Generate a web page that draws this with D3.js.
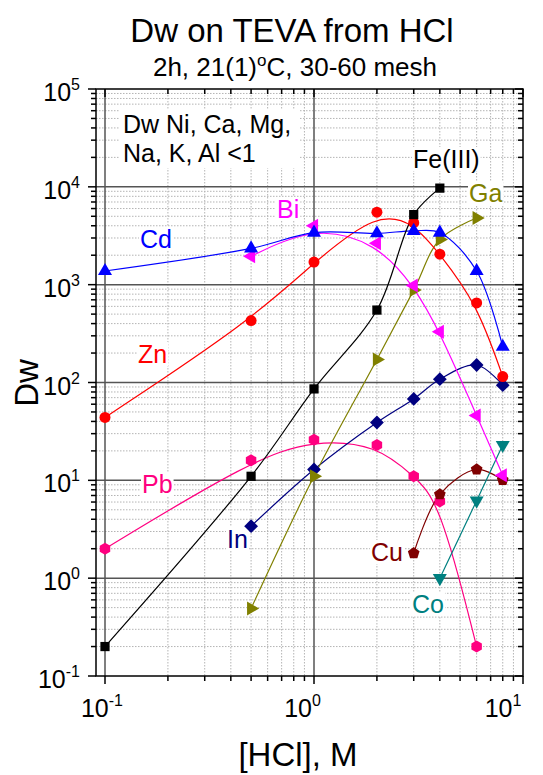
<!DOCTYPE html>
<html>
<head>
<meta charset="utf-8">
<script src="https://cdn.jsdelivr.net/npm/d3@7"></script>
<style>
  body { margin: 0; background: #fff; }
  svg text { font-family: "Liberation Sans", Arial, sans-serif; }
</style>
</head>
<body>
<div id="chart"></div>
<script>
// Dw on TEVA resin vs HCl concentration (log-log)
const width = 543;
const height = 775;

// series: HCl molarity and measured Dw
const feX = [0.1, 0.5, 1, 2, 3, 4];
const feDw = [0.2, 11, 86, 550, 5200, 9700];
const znX = [0.1, 0.5, 1, 2, 3, 4, 6, 8];
const znDw = [44, 430, 1700, 5500, 4300, 2050, 650, 115];
const cdX = [0.1, 0.5, 1, 2, 3, 4, 6, 8];
const cdDw = [1380, 2350, 3400, 3350, 3550, 3400, 1380, 232];
const biX = [0.5, 1, 2, 3, 4, 6, 8];
const biDw = [1950, 4000, 2650, 980, 330, 46, 11.3];
const gaX = [0.5, 1, 2, 3, 4, 6];
const gaDw = [0.49, 11, 172, 880, 2900, 4800];
const inX = [0.5, 1, 2, 3, 4, 6, 8];
const inDw = [3.4, 12.9, 39, 68, 108, 151, 94];
const pbX = [0.1, 0.5, 1, 2, 3, 4, 6];
const pbDw = [2.0, 16, 26, 23, 11, 6.1, 0.2];
const cuX = [3, 4, 6, 8];
const cuDw = [1.8, 7.2, 12.9, 10.1];
const coX = [4, 6, 8];
const coDw = [1.0, 6.2, 23];

const xDecades = [0.1, 1, 10];
const yDecades = [0.1, 1, 10, 100, 1000, 10000, 100000];

// custom polygon symbols (Origin style)
function polygon(n, rot) {
    return {
        draw(ctx, size) {
            const r = Math.sqrt(size / (n * 0.5 * Math.sin(2 * Math.PI / n)));
            for (let i = 0; i < n; i++) {
                const a = rot + i * 2 * Math.PI / n;
                const px = r * Math.cos(a), py = r * Math.sin(a);
                i === 0 ? ctx.moveTo(px, py) : ctx.lineTo(px, py);
            }
            ctx.closePath();
        }
    };
}
const tri = rot => polygon(3, rot);
const sym = {
    square: d3.symbolSquare,
    circle: d3.symbolCircle,
    up: tri(-Math.PI / 2),
    down: tri(Math.PI / 2),
    left: tri(Math.PI),
    right: tri(0),
    diamond: polygon(4, -Math.PI / 2),
    hexagon: polygon(6, -Math.PI / 2),
    pentagon: polygon(5, -Math.PI / 2)
};

const series = [
    { name: 'Pb', xs: pbX, ys: pbDw, color: '#FF0080', shape: 'hexagon', size: 95, fit: true },
    { name: 'Cu', xs: cuX, ys: cuDw, color: '#800000', shape: 'pentagon', size: 90 },
    { name: 'Co', xs: coX, ys: coDw, color: '#008080', shape: 'down', size: 85 },
    { name: 'In', xs: inX, ys: inDw, color: '#000080', shape: 'diamond', size: 95 },
    { name: 'Ga', xs: gaX, ys: gaDw, color: '#808000', shape: 'right', size: 85 },
    { name: 'Bi', xs: biX, ys: biDw, color: '#FF00FF', shape: 'left', size: 85, fit: true },
    { name: 'Zn', xs: znX, ys: znDw, color: '#FF0000', shape: 'circle', size: 95, fit: true },
    { name: 'Cd', xs: cdX, ys: cdDw, color: '#0000FF', shape: 'up', size: 85 },
    { name: 'Fe(III)', xs: feX, ys: feDw, color: '#000000', shape: 'square', size: 85 }
];

const labels = [
    { text: 'Cd', x: 140, y: 248, color: '#0000FF' },
    { text: 'Bi', x: 277, y: 218, color: '#FF00FF' },
    { text: 'Zn', x: 138, y: 363, color: '#FF0000' },
    { text: 'Pb', x: 142, y: 493, color: '#FF0080' },
    { text: 'In', x: 227, y: 548, color: '#000080' },
    { text: 'Fe(III)', x: 413, y: 168, color: '#000000' },
    { text: 'Ga', x: 469, y: 202, color: '#808000' },
    { text: 'Cu', x: 371, y: 561, color: '#800000' },
    { text: 'Co', x: 412, y: 613, color: '#008080' }
];

const frame = { left: 96, right: 523, top: 89, bottom: 676 };
const x = d3.scaleLog().domain([0.1, 10]).range([105, 523]);
const y = d3.scaleLog().domain([0.1, 100000]).range([frame.bottom, frame.top]);

const svg = d3.select('#chart').append('svg')
    .attr('width', width)
    .attr('height', height);

// minor positions (2..9 per decade)
const minorX = [];
xDecades.slice(0, -1).forEach(d => { for (let k = 2; k < 10; k++) minorX.push(d * k); });
const minorY = [];
yDecades.slice(0, -1).forEach(d => { for (let k = 2; k < 10; k++) minorY.push(d * k); });

// grid
const grid = svg.append('g');
grid.selectAll('.gx').data(minorX).enter().append('line')
    .attr('x1', d => x(d)).attr('x2', d => x(d))
    .attr('y1', frame.top).attr('y2', frame.bottom)
    .attr('stroke', '#b4b4b4').attr('stroke-width', 1).attr('stroke-dasharray', '1.5,1.5');
grid.selectAll('.gy').data(minorY).enter().append('line')
    .attr('y1', d => y(d)).attr('y2', d => y(d))
    .attr('x1', frame.left).attr('x2', frame.right)
    .attr('stroke', '#b4b4b4').attr('stroke-width', 1).attr('stroke-dasharray', '1.5,1.5');
grid.selectAll('.Gx').data(xDecades.slice(0, -1)).enter().append('line')
    .attr('x1', d => x(d)).attr('x2', d => x(d))
    .attr('y1', frame.top).attr('y2', frame.bottom)
    .attr('stroke', '#555').attr('stroke-width', 1.5);
grid.selectAll('.Gy').data(yDecades.slice(1, -1)).enter().append('line')
    .attr('y1', d => y(d)).attr('y2', d => y(d))
    .attr('x1', frame.left).attr('x2', frame.right)
    .attr('stroke', '#555').attr('stroke-width', 1.5);

// note box
const note = svg.append('g');
note.append('rect').attr('x', 120).attr('y', 110).attr('width', 180).attr('height', 58).attr('fill', '#fff');
note.append('text').attr('x', 123).attr('y', 133).attr('font-size', 25).text('Dw Ni, Ca, Mg,');
note.append('text').attr('x', 123).attr('y', 162).attr('font-size', 25).text('Na, K, Al <1');

// series labels with white boxes
labels.forEach(l => {
    const t = svg.append('text')
        .attr('x', l.x).attr('y', l.y)
        .attr('font-size', 25)
        .attr('fill', l.color)
        .text(l.text);
    const b = t.node().getBBox();
    svg.insert('rect', () => t.node())
        .attr('x', b.x - 1).attr('y', b.y + 2)
        .attr('width', b.width + 2).attr('height', b.height - 4)
        .attr('fill', '#fff');
});

// curves then markers
const lineGen = d3.line().x(d => x(d[0])).y(d => y(d[1]));
series.forEach(s => {
    const pts = s.xs.map((v, i) => [v, s.ys[i]]);
    svg.append('path')
        .attr('d', lineGen.curve(s.fit ? d3.curveBasis : d3.curveCatmullRom.alpha(0.5))(pts))
        .attr('fill', 'none')
        .attr('stroke', s.color)
        .attr('stroke-width', 1.2);
});
series.forEach(s => {
    const pts = s.xs.map((v, i) => [v, s.ys[i]]);
    svg.selectAll(null).data(pts).enter().append('path')
        .attr('transform', d => `translate(${x(d[0])},${y(d[1])})`)
        .attr('d', d3.symbol().type(sym[s.shape]).size(s.size))
        .attr('fill', s.color);
});

// frame
svg.append('rect')
    .attr('x', frame.left).attr('y', frame.top)
    .attr('width', frame.right - frame.left).attr('height', frame.bottom - frame.top)
    .attr('fill', 'none').attr('stroke', '#000').attr('stroke-width', 1.5);

// ticks
const ticks = svg.append('g').attr('stroke', '#000').attr('stroke-width', 1.5);
xDecades.forEach(d => {
    ticks.append('line').attr('x1', x(d)).attr('x2', x(d)).attr('y1', frame.bottom).attr('y2', frame.bottom + 8);
    ticks.append('line').attr('x1', x(d)).attr('x2', x(d)).attr('y1', frame.top).attr('y2', frame.top + 8);
});
minorX.forEach(d => {
    ticks.append('line').attr('x1', x(d)).attr('x2', x(d)).attr('y1', frame.bottom).attr('y2', frame.bottom + 5);
    ticks.append('line').attr('x1', x(d)).attr('x2', x(d)).attr('y1', frame.top).attr('y2', frame.top + 5);
});
yDecades.forEach(d => {
    ticks.append('line').attr('y1', y(d)).attr('y2', y(d)).attr('x1', frame.left).attr('x2', frame.left - 8);
    ticks.append('line').attr('y1', y(d)).attr('y2', y(d)).attr('x1', frame.right).attr('x2', frame.right - 8);
});
minorY.forEach(d => {
    ticks.append('line').attr('y1', y(d)).attr('y2', y(d)).attr('x1', frame.left).attr('x2', frame.left - 5);
    ticks.append('line').attr('y1', y(d)).attr('y2', y(d)).attr('x1', frame.right).attr('x2', frame.right - 5);
});

// tick labels (10^n)
const expOf = d => Math.round(Math.log10(d));
yDecades.forEach(d => {
    const t = svg.append('text')
        .attr('x', 80).attr('y', y(d) + 12)
        .attr('text-anchor', 'end')
        .attr('font-size', 25);
    t.append('tspan').text('10');
    t.append('tspan').attr('dy', -11).attr('font-size', 16).text(expOf(d));
});
xDecades.forEach(d => {
    const t = svg.append('text')
        .attr('x', x(d) - 3 - 8.5 * (expOf(d) + 1)).attr('y', 717)
        .attr('text-anchor', 'middle')
        .attr('font-size', 25);
    t.append('tspan').text('10');
    t.append('tspan').attr('dy', -11).attr('font-size', 16).text(expOf(d));
});

// titles
svg.append('text').attr('x', 292).attr('y', 42).attr('text-anchor', 'middle')
    .attr('font-size', 33).text('Dw on TEVA from HCl');
const sub = svg.append('text').attr('x', 295).attr('y', 76).attr('text-anchor', 'middle')
    .attr('font-size', 26);
sub.append('tspan').text('2h, 21(1)');
sub.append('tspan').attr('dy', -10).attr('font-size', 17).text('o');
sub.append('tspan').attr('dy', 10).text('C, 30-60 mesh');

svg.append('text').attr('x', 298).attr('y', 766).attr('text-anchor', 'middle')
    .attr('font-size', 33).text('[HCl], M');
svg.append('text')
    .attr('transform', 'translate(38,383) rotate(-90)')
    .attr('text-anchor', 'middle')
    .attr('font-size', 33).text('Dw');
</script>
</body>
</html>
